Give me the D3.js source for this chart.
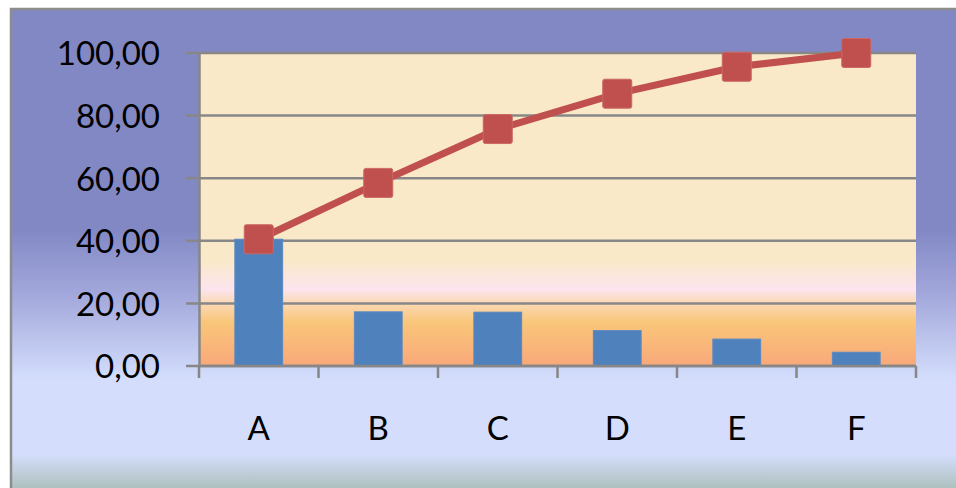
<!DOCTYPE html>
<html>
<head>
<meta charset="utf-8">
<script src="https://cdn.jsdelivr.net/npm/d3@7/dist/d3.min.js"></script>
<style>
  html, body { margin: 0; padding: 0; background: #ffffff; }
  svg { display: block; }
  text { font-family: Lato, "Open Sans", sans-serif; fill: #000; }
</style>
</head>
<body>
<div id="chart"></div>
<script>
var categories = ["A", "B", "C", "D", "E", "F"];
var barValues = [40.5, 17.3, 17.2, 11.3, 8.6, 4.4];
var cumValues = [40.5, 58.5, 75.7, 87.0, 95.6, 100.0];
var yTicks = [0, 20, 40, 60, 80, 100];

var W = 956, H = 488;
var plotLeft = 199, plotRight = 916, plotTop = 53, plotBottom = 366;

var svg = d3.select("#chart").append("svg")
    .attr("width", W)
    .attr("height", H);

var defs = svg.append("defs");

    //outer chart area gradient
var outerGrad = defs.append("linearGradient")
    .attr("id", "outerGrad")
    .attr("gradientUnits", "userSpaceOnUse")
    .attr("x1", 0).attr("y1", 9).attr("x2", 0).attr("y2", H);
[[0, "#8288C4"], [0.46, "#8288C4"], [0.6, "#A3A9DC"], [0.775, "#D4DEFC"], [0.93, "#D4DEFC"], [1, "#AEC0BE"]]
    .forEach(function (s) {
        outerGrad.append("stop").attr("offset", s[0]).attr("stop-color", s[1]);
    });

    //plot area gradient
var plotGrad = defs.append("linearGradient")
    .attr("id", "plotGrad")
    .attr("x1", 0).attr("y1", 0).attr("x2", 0).attr("y2", 1);
[[0, "#FAE9C8"], [0.66, "#FAE9C8"], [0.755, "#FCE4EE"], [0.8, "#FBD9B4"], [0.86, "#F9C67A"], [1, "#F9A87A"]]
    .forEach(function (s) {
        plotGrad.append("stop").attr("offset", s[0]).attr("stop-color", s[1]);
    });

svg.append("rect")
    .attr("x", 11).attr("y", 9)
    .attr("width", W + 20).attr("height", H + 20)
    .attr("fill", "url(#outerGrad)")
    .attr("stroke", "#8C8C8C")
    .attr("stroke-width", 2.5);

var x = d3.scaleBand()
    .domain(categories)
    .range([plotLeft, plotRight])
    .paddingInner(0.6)
    .paddingOuter(0.3);

var y = d3.scaleLinear()
    .domain([0, 100])
    .range([plotBottom, plotTop]);

svg.append("rect")
    .attr("x", plotLeft).attr("y", plotTop)
    .attr("width", plotRight - plotLeft).attr("height", plotBottom - plotTop)
    .attr("fill", "url(#plotGrad)");

    //gridlines
svg.append("g")
    .selectAll("line")
    .data(yTicks)
    .enter()
    .append("line")
    .attr("x1", plotLeft - 13)
    .attr("x2", plotRight)
    .attr("y1", function (d) { return y(d); })
    .attr("y2", function (d) { return y(d); })
    .style("stroke", "#878787")
    .style("stroke-width", 2.5);

    //y axis with labels
var yAxis = svg.append("g")
    .attr("transform", "translate(" + plotLeft + ",0)")
    .call(d3.axisLeft(y)
        .tickValues(yTicks)
        .tickSize(0)
        .tickPadding(39)
        .tickFormat(function (d) { return d3.format(".2f")(d).replace(".", ","); }));
yAxis.select(".domain").style("stroke", "#878787").style("stroke-width", 2.5);
yAxis.selectAll("text")
    .style("font-size", "33px")
    .style("font-family", "Lato, 'Open Sans', sans-serif")
    .attr("dy", "0.36em");

    //bars
svg.append("g")
    .selectAll("rect")
    .data(barValues)
    .enter()
    .append("rect")
    .attr("x", function (d, i) { return x(categories[i]); })
    .attr("y", function (d) { return y(d); })
    .attr("width", x.bandwidth())
    .attr("height", function (d) { return plotBottom - y(d); })
    .style("fill", "#4F81BD")
    .style("stroke", "#5A89C2")
    .style("stroke-width", 1);

    //x axis ticks between categories
var bounds = d3.range(categories.length + 1).map(function (i) { return plotLeft + i * x.step(); });
svg.append("g")
    .selectAll("line")
    .data(bounds)
    .enter()
    .append("line")
    .attr("x1", function (d) { return d; })
    .attr("x2", function (d) { return d; })
    .attr("y1", plotBottom)
    .attr("y2", plotBottom + 12)
    .style("stroke", "#878787")
    .style("stroke-width", 2.5);

svg.append("line")
    .attr("x1", plotLeft).attr("x2", plotRight)
    .attr("y1", plotBottom).attr("y2", plotBottom)
    .style("stroke", "#878787")
    .style("stroke-width", 2.5);

svg.append("g")
    .selectAll("text")
    .data(categories)
    .enter()
    .append("text")
    .attr("x", function (d) { return x(d) + x.bandwidth() / 2; })
    .attr("y", 440)
    .attr("text-anchor", "middle")
    .style("font-size", "33px")
    .text(function (d) { return d; });

    //cumulative line
var line = d3.line()
    .x(function (d, i) { return x(categories[i]) + x.bandwidth() / 2; })
    .y(function (d) { return y(d); });

svg.append("path")
    .datum(cumValues)
    .attr("d", line)
    .style("fill", "none")
    .style("stroke", "#C0504D")
    .style("stroke-width", 7)
    .style("stroke-linejoin", "round");

var M = 29;
svg.append("g")
    .selectAll("rect")
    .data(cumValues)
    .enter()
    .append("rect")
    .attr("x", function (d, i) { return x(categories[i]) + x.bandwidth() / 2 - M / 2; })
    .attr("y", function (d) { return y(d) - M / 2; })
    .attr("width", M)
    .attr("height", M)
    .attr("rx", 2)
    .style("fill", "#C0504D")
    .style("stroke", "#CB6764")
    .style("stroke-width", 1);
</script>
</body>
</html>
